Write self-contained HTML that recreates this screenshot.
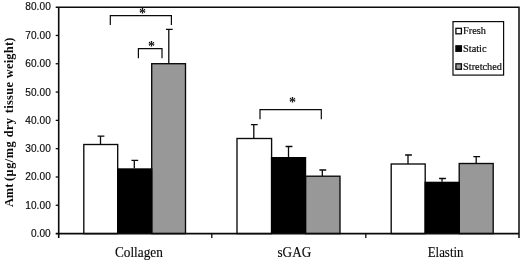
<!DOCTYPE html><html><head><meta charset="utf-8"><title>chart</title><style>html,body{margin:0;padding:0;background:#fff}svg{display:block}text{fill:#0a0a0a}</style></head><body>
<svg width="521" height="260" viewBox="0 0 521 260">
<rect width="521" height="260" fill="#fff"/>
<rect x="83.80" y="144.50" width="33.90" height="89.10" fill="#ffffff" stroke="#0a0a0a" stroke-width="1.35"/>
<rect x="151.70" y="63.70" width="33.80" height="169.90" fill="#989898" stroke="#0a0a0a" stroke-width="1.35"/>
<rect x="117.00" y="168.30" width="35.40" height="65.30" fill="#000"/>
<path d="M100.50 144.50V136.20M97.60 136.20H104.40" stroke="#0a0a0a" stroke-width="1.3" fill="none"/>
<path d="M134.30 168.30V160.30M131.40 160.30H138.20" stroke="#0a0a0a" stroke-width="1.3" fill="none"/>
<path d="M168.80 63.70V29.30M165.90 29.30H172.70" stroke="#0a0a0a" stroke-width="1.3" fill="none"/>
<rect x="237.00" y="138.50" width="34.60" height="95.10" fill="#ffffff" stroke="#0a0a0a" stroke-width="1.35"/>
<rect x="305.50" y="176.20" width="34.50" height="57.40" fill="#989898" stroke="#0a0a0a" stroke-width="1.35"/>
<rect x="270.90" y="157.00" width="35.30" height="76.60" fill="#000"/>
<path d="M253.80 138.50V124.70M250.90 124.70H257.70" stroke="#0a0a0a" stroke-width="1.3" fill="none"/>
<path d="M288.50 157.00V146.50M285.60 146.50H292.40" stroke="#0a0a0a" stroke-width="1.3" fill="none"/>
<path d="M322.30 176.20V170.00M319.40 170.00H326.20" stroke="#0a0a0a" stroke-width="1.3" fill="none"/>
<rect x="391.20" y="164.00" width="34.00" height="69.60" fill="#ffffff" stroke="#0a0a0a" stroke-width="1.35"/>
<rect x="459.20" y="163.50" width="34.00" height="70.10" fill="#989898" stroke="#0a0a0a" stroke-width="1.35"/>
<rect x="424.50" y="181.70" width="35.40" height="51.90" fill="#000"/>
<path d="M408.00 164.00V155.00M405.10 155.00H411.90" stroke="#0a0a0a" stroke-width="1.3" fill="none"/>
<path d="M442.00 181.70V178.50M439.10 178.50H445.90" stroke="#0a0a0a" stroke-width="1.3" fill="none"/>
<path d="M476.20 163.50V156.70M473.30 156.70H480.10" stroke="#0a0a0a" stroke-width="1.3" fill="none"/>
<path d="M55.70 7.15H519.0V238.0" stroke="#0a0a0a" stroke-width="1.5" fill="none"/>
<path d="M58.7 7.15V238.0M55.70 233.6H519.0" stroke="#0a0a0a" stroke-width="1.6" fill="none"/>
<text x="50.8" y="237.05" text-anchor="end" font-family="Liberation Sans, Arial, sans-serif" font-size="10.1" letter-spacing="0.05" stroke="#0a0a0a" stroke-width="0.15">0.00</text>
<path d="M55.70 205.29H58.7" stroke="#0a0a0a" stroke-width="1.3"/>
<text x="50.8" y="208.74" text-anchor="end" font-family="Liberation Sans, Arial, sans-serif" font-size="10.1" letter-spacing="0.05" stroke="#0a0a0a" stroke-width="0.15">10.00</text>
<path d="M55.70 176.99H58.7" stroke="#0a0a0a" stroke-width="1.3"/>
<text x="50.8" y="180.44" text-anchor="end" font-family="Liberation Sans, Arial, sans-serif" font-size="10.1" letter-spacing="0.05" stroke="#0a0a0a" stroke-width="0.15">20.00</text>
<path d="M55.70 148.68H58.7" stroke="#0a0a0a" stroke-width="1.3"/>
<text x="50.8" y="152.13" text-anchor="end" font-family="Liberation Sans, Arial, sans-serif" font-size="10.1" letter-spacing="0.05" stroke="#0a0a0a" stroke-width="0.15">30.00</text>
<path d="M55.70 120.38H58.7" stroke="#0a0a0a" stroke-width="1.3"/>
<text x="50.8" y="123.83" text-anchor="end" font-family="Liberation Sans, Arial, sans-serif" font-size="10.1" letter-spacing="0.05" stroke="#0a0a0a" stroke-width="0.15">40.00</text>
<path d="M55.70 92.07H58.7" stroke="#0a0a0a" stroke-width="1.3"/>
<text x="50.8" y="95.52" text-anchor="end" font-family="Liberation Sans, Arial, sans-serif" font-size="10.1" letter-spacing="0.05" stroke="#0a0a0a" stroke-width="0.15">50.00</text>
<path d="M55.70 63.76H58.7" stroke="#0a0a0a" stroke-width="1.3"/>
<text x="50.8" y="67.21" text-anchor="end" font-family="Liberation Sans, Arial, sans-serif" font-size="10.1" letter-spacing="0.05" stroke="#0a0a0a" stroke-width="0.15">60.00</text>
<path d="M55.70 35.46H58.7" stroke="#0a0a0a" stroke-width="1.3"/>
<text x="50.8" y="38.91" text-anchor="end" font-family="Liberation Sans, Arial, sans-serif" font-size="10.1" letter-spacing="0.05" stroke="#0a0a0a" stroke-width="0.15">70.00</text>
<text x="50.8" y="9.80" text-anchor="end" font-family="Liberation Sans, Arial, sans-serif" font-size="10.1" letter-spacing="0.05" stroke="#0a0a0a" stroke-width="0.15">80.00</text>
<path d="M211.80 233.6V238.0" stroke="#0a0a0a" stroke-width="1.3"/>
<path d="M365.80 233.6V238.0" stroke="#0a0a0a" stroke-width="1.3"/>
<text transform="translate(114.9 256.9) scale(0.955 1)" font-family="Liberation Serif, Times New Roman, serif" font-size="13.9" stroke="#0a0a0a" stroke-width="0.15">Collagen</text>
<text transform="translate(277.5 256.9) scale(0.948 1)" font-family="Liberation Serif, Times New Roman, serif" font-size="13.9" stroke="#0a0a0a" stroke-width="0.15">sGAG</text>
<text transform="translate(427.7 256.9) scale(0.928 1)" font-family="Liberation Serif, Times New Roman, serif" font-size="13.9" stroke="#0a0a0a" stroke-width="0.15">Elastin</text>
<text transform="translate(12.9 207.1) rotate(-90)" font-family="Liberation Serif, Times New Roman, serif" font-weight="bold" font-size="12.4"><tspan x="0">Amt</tspan><tspan x="26.1" letter-spacing="0.5">(μg/mg</tspan><tspan x="69.9" letter-spacing="0.3">dry</tspan><tspan x="93.9" letter-spacing="0.3">tissue</tspan><tspan x="128.8" letter-spacing="0.25">weight)</tspan></text>
<path d="M110.3 25.0V15.6H171.4V25.0" stroke="#0a0a0a" stroke-width="1.2" fill="none"/>
<text x="142.4" y="17.9" text-anchor="middle" font-family="Liberation Serif, Times New Roman, serif" font-size="14" font-weight="bold">*</text>
<path d="M138.4 58.3V48.6H162.0V58.3" stroke="#0a0a0a" stroke-width="1.2" fill="none"/>
<text x="151.4" y="50.6" text-anchor="middle" font-family="Liberation Serif, Times New Roman, serif" font-size="14" font-weight="bold">*</text>
<path d="M260.0 119.3V109.7H321.3V119.3" stroke="#0a0a0a" stroke-width="1.2" fill="none"/>
<text x="292.5" y="107.05" text-anchor="middle" font-family="Liberation Serif, Times New Roman, serif" font-size="14" font-weight="bold">*</text>
<rect x="453" y="21.6" width="50.6" height="53.5" fill="#fff" stroke="#0a0a0a" stroke-width="1.2"/>
<rect x="455.9" y="28.30" width="5.5" height="5.5" fill="#ffffff" stroke="#0a0a0a" stroke-width="1.3"/>
<text x="463.1" y="34.00" font-family="Liberation Serif, Times New Roman, serif" font-size="10.3" stroke="#0a0a0a" stroke-width="0.18">Fresh</text>
<rect x="455.9" y="45.80" width="5.5" height="5.5" fill="#000000" stroke="#0a0a0a" stroke-width="1.3"/>
<text x="463.1" y="51.50" font-family="Liberation Serif, Times New Roman, serif" font-size="10.3" stroke="#0a0a0a" stroke-width="0.18">Static</text>
<rect x="455.9" y="63.80" width="5.5" height="5.5" fill="#989898" stroke="#0a0a0a" stroke-width="1.3"/>
<text x="463.1" y="69.50" font-family="Liberation Serif, Times New Roman, serif" font-size="10.3" stroke="#0a0a0a" stroke-width="0.18">Stretched</text>
</svg></body></html>
